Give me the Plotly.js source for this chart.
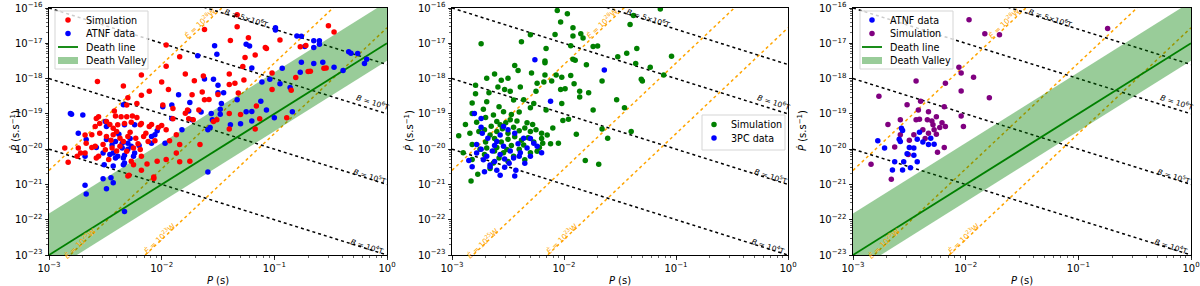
<!DOCTYPE html>
<html><head><meta charset="utf-8">
<script src="https://cdn.plot.ly/plotly-3.0.1.min.js"></script>
<style>html,body{margin:0;padding:0;background:#fff}#chart{width:1200px;height:286px}</style>
</head><body><div id="chart"></div>
<script>
// ---- Values (log10 of P in s, log10 of Pdot in s/s) ----
// Panel 1: Simulation (red)
const p1SimLogP = [-1.33,-1.62,-1.33,-0.52,-0.47,-1.96,-1.23,-1.39,-1.07,-1.84,-1.26,-1.17,-0.72,-1.28,-1.96,-2.18,-2.57,-2.34,-1.79,-1.71,-1.63,-2.0,-1.40,-1.32,-2.11,-1.94,-1.64,-1.62,-1.58,-1.73,-2.30,-2.22,-1.99,-1.90,-2.42,-1.77,-1.67,-1.90,-1.76,-1.72,-2.19,-2.03,-1.96,-2.11,-2.58,-2.49,-1.87,-1.02,-1.02,-0.85,-0.70,-0.56,-1.40,-1.30,-1.51,-1.16,-1.40,-1.17,-0.89,-2.18,-2.31,-2.56,-2.41,-2.36,-2.31,-2.26,-2.22,-2.59,-2.46,-2.39,-2.33,-2.27,-2.18,-2.09,-2.00,-2.62,-2.55,-2.49,-2.43,-2.37,-2.30,-2.23,-2.16,-2.12,-2.06,-2.67,-2.59,-2.52,-2.44,-2.37,-2.31,-2.25,-2.19,-2.74,-2.75,-2.68,-2.56,-2.47,-2.27,-2.18,-2.83,-2.72,-2.58,-2.25,-2.13,-2.04,-1.96,-2.18,-2.29,-2.07,-1.84,-1.75,-1.66,-1.87,-1.84,-0.95,-1.08,-0.77,-0.68,-0.54,-1.40,-1.35,-1.27,-0.81,-1.54,-1.13,-1.93,-2.43,-2.86,-2.55,-2.30,-2.07,-2.40,-2.34,-2.45,-2.28,-2.50,-2.62,-2.21,-2.40,-2.14,-1.79,-2.68,-1.50];
const p1SimLogPdot = [-16.19,-16.61,-16.53,-16.50,-16.68,-17.05,-16.84,-16.92,-17.15,-17.38,-17.40,-17.33,-17.06,-17.66,-17.65,-17.90,-18.08,-18.21,-17.87,-18.06,-17.93,-18.10,-18.17,-18.41,-18.36,-18.31,-18.38,-18.60,-18.59,-18.46,-18.54,-18.71,-18.75,-18.85,-18.92,-18.89,-18.89,-19.14,-19.14,-19.17,-19.31,-19.39,-19.45,-19.36,-19.13,-19.22,-19.59,-17.84,-18.31,-18.33,-17.80,-17.71,-18.99,-19.02,-19.17,-18.78,-19.43,-19.43,-19.11,-18.47,-18.75,-19.08,-19.06,-19.08,-19.08,-19.06,-19.10,-19.36,-19.30,-19.31,-19.27,-19.24,-19.27,-19.30,-19.33,-19.59,-19.55,-19.64,-19.59,-19.69,-19.64,-19.69,-19.64,-19.78,-19.76,-19.83,-19.92,-19.87,-19.97,-19.92,-20.06,-19.97,-20.01,-19.97,-20.20,-20.11,-20.20,-20.29,-20.34,-20.20,-20.37,-20.11,-20.25,-20.44,-20.42,-20.34,-20.29,-20.60,-20.74,-20.79,-20.36,-20.34,-19.87,-20.11,-19.87,-16.91,-17.12,-17.10,-17.79,-17.70,-17.87,-18.13,-18.04,-17.97,-19.22,-19.14,-19.76,-19.41,-19.97,-19.27,-20.76,-20.83,-19.50,-19.78,-19.75,-19.52,-20.02,-19.95,-19.85,-20.05,-19.55,-18.98,-19.60,-18.45];
// Panel 1: ATNF data (blue)
const p1AtnfLogP = [-1.53,-1.51,-1.68,-1.25,-1.22,-1.20,-1.62,-1.54,-1.50,-1.50,-1.45,-1.85,-1.75,-2.34,-2.81,-1.47,-1.48,-1.56,-1.48,-1.55,-1.39,-1.30,-1.25,-1.20,-1.12,-1.07,-1.00,-0.84,-1.57,-1.59,-1.82,-2.06,-2.09,-0.99,-0.99,-0.80,-0.76,-0.65,-0.60,-0.73,-0.65,-0.60,-0.34,-0.32,-0.26,-0.76,-0.65,-0.57,-0.47,-0.39,-0.20,-0.18,-0.93,-0.77,-1.11,-1.04,-2.80,-2.70,-2.74,-2.67,-2.50,-2.49,-2.33,-2.24,-2.49,-2.41,-2.35,-2.30,-2.27,-2.35,-2.43,-2.39,-2.33,-2.24,-2.09,-2.04,-1.91,-1.99,-1.91,-2.51,-2.33,-1.76,-1.73,-2.68,-2.52,-2.46,-2.41,-2.34,-2.25,-2.43,-2.34,-2.52,-2.45,-2.43,-2.68,-2.67,-2.49,-2.33,-1.59,-1.97,-2.38,-2.28,-2.20,-2.44,-2.58,-2.30,-1.20,-0.95,-0.86,-1.33,-1.65];
const p1AtnfLogPdot = [-17.07,-17.31,-17.35,-17.03,-17.08,-17.70,-18.01,-18.02,-18.19,-18.40,-18.40,-18.46,-18.68,-18.74,-18.99,-18.71,-18.87,-18.99,-19.01,-19.17,-19.31,-19.28,-18.94,-18.93,-18.64,-18.89,-19.11,-18.94,-19.39,-19.45,-19.45,-19.59,-19.83,-16.56,-16.62,-16.79,-16.80,-16.93,-16.93,-17.09,-17.12,-17.03,-17.24,-17.28,-17.29,-17.54,-17.57,-17.54,-17.68,-17.77,-17.57,-17.45,-17.71,-17.82,-18.10,-18.02,-19.01,-19.03,-19.55,-19.73,-19.22,-19.36,-19.31,-19.31,-19.73,-19.78,-19.83,-19.83,-19.92,-19.97,-20.11,-20.20,-20.17,-20.11,-19.64,-19.48,-18.75,-18.80,-19.13,-20.44,-20.39,-18.92,-19.17,-20.20,-20.11,-20.15,-20.25,-20.25,-20.20,-20.48,-20.44,-20.84,-20.81,-20.95,-21.02,-21.27,-21.12,-21.77,-20.65,-19.83,-19.58,-19.70,-19.90,-19.88,-19.95,-20.00,-19.20,-18.15,-18.25,-18.60,-18.95];
// Panel 2: Simulation (green)
const p2SimLogP = [-2.06,-1.97,-1.14,-1.38,-1.41,-2.03,-1.92,-1.92,-1.85,-1.83,-2.08,-2.30,-2.74,-2.38,-2.16,-1.94,-1.74,-1.70,-1.52,-1.44,-1.35,-1.36,-1.23,-1.04,-1.11,-1.30,-1.92,-1.90,-1.80,-2.17,-2.17,-2.44,-2.41,-2.29,-2.17,-2.07,-1.94,-2.02,-2.62,-2.56,-2.50,-2.69,-2.24,-2.18,-2.11,-2.03,-1.99,-1.86,-1.91,-1.78,-1.66,-1.31,-2.25,-2.79,-2.67,-2.59,-2.53,-2.48,-2.39,-2.79,-2.69,-2.45,-2.36,-2.30,-2.27,-2.16,-2.02,-1.86,-1.74,-1.53,-1.46,-1.66,-1.61,-1.40,-1.89,-2.01,-1.96,-2.82,-2.82,-2.72,-2.78,-2.70,-2.63,-2.54,-2.60,-2.48,-2.94,-2.84,-2.71,-2.57,-2.82,-2.69,-2.51,-2.24,-2.19,-2.05,-2.71,-2.63,-2.66,-2.82,-2.77,-2.83,-1.81,-1.69,-2.65,-2.60,-2.55,-2.50,-2.45,-2.40,-2.35,-2.30,-2.25,-2.20,-2.62,-2.56,-2.50,-2.44,-2.38,-2.32,-2.27,-2.60,-2.54,-2.47,-2.40,-2.36,-2.30,-2.20,-2.15,-2.70,-2.75,-2.58,-2.45,-2.66,-2.52,-2.42,-2.33,-2.28,-2.10,-2.47,-2.40,-2.58,-2.76,-2.88,-2.35,-2.50,-2.62,-2.90,-2.22,-2.12];
const p2SimLogPdot = [-16.07,-16.16,-16.03,-16.21,-16.47,-16.40,-16.56,-16.79,-16.73,-16.85,-16.75,-16.76,-17.01,-16.96,-17.15,-17.07,-17.09,-17.08,-17.38,-17.28,-17.15,-17.57,-17.68,-17.37,-17.90,-18.07,-17.45,-17.48,-17.61,-17.50,-17.55,-17.63,-17.77,-17.84,-17.90,-17.90,-17.91,-17.96,-17.87,-18.05,-17.99,-17.99,-18.13,-18.10,-18.07,-18.31,-18.29,-18.36,-18.15,-18.40,-18.07,-18.02,-18.36,-18.19,-18.40,-18.24,-18.31,-18.36,-18.24,-18.43,-18.66,-18.61,-18.60,-18.83,-18.71,-18.89,-18.71,-18.52,-18.89,-18.60,-18.83,-19.43,-19.69,-19.50,-19.58,-19.19,-19.15,-18.69,-18.99,-18.87,-19.24,-19.10,-19.03,-18.94,-19.22,-19.17,-19.62,-19.55,-19.45,-19.31,-19.87,-19.97,-20.01,-20.06,-19.83,-19.83,-20.15,-20.39,-20.55,-20.29,-20.71,-20.90,-20.32,-20.43,-19.35,-19.50,-19.42,-19.55,-19.38,-19.48,-19.40,-19.50,-19.45,-19.55,-19.70,-19.80,-19.72,-19.65,-19.75,-19.68,-19.80,-19.95,-20.10,-19.90,-20.00,-19.88,-20.10,-19.70,-19.60,-19.80,-20.00,-20.25,-20.20,-19.60,-19.25,-19.20,-19.25,-19.30,-19.40,-19.02,-18.95,-18.80,-19.50,-19.30,-20.30,-20.35,-20.05,-20.10,-19.95,-19.85];
// Panel 2: 3PC data (blue)
const p2PcLogP = [-2.26,-1.64,-2.12,-2.80,-2.74,-2.74,-2.54,-2.50,-2.68,-2.57,-2.44,-2.36,-2.30,-2.78,-2.60,-2.54,-2.41,-2.27,-2.85,-2.78,-2.74,-2.69,-2.64,-2.57,-2.53,-2.45,-2.40,-2.30,-2.33,-2.24,-2.71,-2.66,-2.57,-2.53,-2.44,-2.43,-2.62,-2.66,-2.49,-2.35,-2.82,-2.60,-2.72,-2.48,-2.39,-2.20,-2.73,-2.62];
const p2PcLogPdot = [-17.47,-17.76,-18.64,-18.99,-19.13,-19.38,-19.36,-19.45,-19.69,-19.60,-19.55,-19.69,-19.70,-19.87,-19.78,-19.92,-19.85,-19.83,-20.32,-20.11,-20.00,-20.20,-20.05,-20.15,-20.28,-20.25,-20.20,-20.20,-19.97,-19.92,-20.64,-20.50,-20.74,-20.51,-20.76,-20.60,-20.35,-20.45,-20.40,-20.40,-20.50,-20.60,-20.30,-20.05,-20.10,-20.10,-19.55,-19.90];
// Panel 3: ATNF data (blue)
const p3AtnfLogP = [-2.78,-2.72,-2.59,-2.57,-2.56,-2.50,-2.46,-2.41,-2.43,-2.33,-2.31,-2.28,-2.52,-2.46,-2.55,-2.43,-2.63,-2.65,-2.56,-2.49,-2.58,-2.38];
const p3AtnfLogPdot = [-19.76,-19.97,-19.72,-19.41,-19.47,-19.95,-19.97,-19.52,-19.72,-19.87,-19.69,-19.86,-20.13,-20.17,-20.36,-20.36,-20.36,-20.59,-20.59,-20.53,-19.78,-19.80];
// Panel 3: Simulation (purple)
const p3SimLogP = [-1.97,-1.83,-1.70,-0.74,-2.06,-2.04,-1.93,-2.18,-2.44,-2.04,-1.79,-2.77,-2.69,-2.52,-2.40,-2.19,-2.04,-2.02,-2.42,-2.44,-2.33,-2.34,-2.26,-2.29,-2.23,-2.18,-2.38,-2.46,-2.33,-2.26,-2.58,-2.58,-2.63,-2.19,-2.84,-2.66,-2.51,-2.25,-2.41,-2.30,-2.21,-2.36,-2.28,-2.50];
const p3SimLogPdot = [-16.33,-16.73,-16.76,-16.58,-17.68,-17.84,-17.96,-18.13,-18.07,-18.35,-18.54,-18.50,-19.30,-18.74,-18.64,-18.80,-19.06,-19.36,-18.89,-19.17,-18.94,-19.17,-19.08,-19.31,-19.39,-19.36,-19.45,-19.59,-19.55,-19.58,-19.17,-19.59,-19.94,-19.95,-20.43,-20.85,-20.15,-20.09,-19.15,-19.20,-19.25,-19.70,-19.45,-19.75];

// ---- Reference lines (end points) ----
const lineP = [1e-3, 1];
const bLineTexts = ['5×10<sup>6</sup>', '10<sup>6</sup>', '10<sup>5</sup>', '10<sup>4</sup>'];
const bLinePdot = [[2.5e-15, 2.5e-18], [1e-16, 1e-19], [1e-18, 1e-21], [1e-20, 1e-23]];
const eLineTexts = ['10<sup>28</sup>', '10<sup>25</sup>', '10<sup>23</sup>'];
const eLinePdot = [[2.5e-21, 2.5e-12], [2.75e-24, 2.75e-15], [2.75e-26, 2.75e-17]];
const deathLinePdot = [1e-23, 1e-17];
const valleyUpperPdot = [1.5e-22, 1.5e-16];
const valleyLowerPdot = [3.2e-24, 3.2e-18];

// ---- Tick labels and legend labels ----
const xTickVals = [1e-3, 1e-2, 1e-1, 1];
const xTickText = ['10<sup>−3</sup>', '10<sup>−2</sup>', '10<sup>−1</sup>', '10<sup>0</sup>'];
const yTickVals = [1e-23, 1e-22, 1e-21, 1e-20, 1e-19, 1e-18, 1e-17, 1e-16];
const yTickText = ['10<sup>−23</sup>', '10<sup>−22</sup>', '10<sup>−21</sup>', '10<sup>−20</sup>', '10<sup>−19</sup>', '10<sup>−18</sup>', '10<sup>−17</sup>', '10<sup>−16</sup>'];
const legend1Labels = ['Simulation', 'ATNF data', 'Death line', 'Death Valley'];
const legend2Labels = ['Simulation', '3PC data'];
const legend3Labels = ['ATNF data', 'Simulation', 'Death line', 'Death Valley'];

// ---- build ----
const pow10 = a => a.map(v => Math.pow(10, v));
const FONT = 'DejaVu Sans, Verdana, sans-serif';
const VALLEY = 'rgba(0,128,0,0.4)';
const traces = [];

function addRefLines(sfx) {
  eLinePdot.forEach(pd => traces.push({x: lineP, y: pd, xaxis: 'x' + sfx, yaxis: 'y' + sfx, mode: 'lines',
    line: {color: 'orange', width: 1.5, dash: 'dot'}, showlegend: false, hoverinfo: 'skip'}));
  bLinePdot.forEach(pd => traces.push({x: lineP, y: pd, xaxis: 'x' + sfx, yaxis: 'y' + sfx, mode: 'lines',
    line: {color: 'black', width: 1.5, dash: 'dot'}, showlegend: false, hoverinfo: 'skip'}));
}
function addValley(sfx) {
  traces.push({x: [lineP[0], lineP[1], lineP[1], lineP[0]],
    y: [valleyUpperPdot[0], valleyUpperPdot[1], valleyLowerPdot[1], valleyLowerPdot[0]],
    xaxis: 'x' + sfx, yaxis: 'y' + sfx, mode: 'lines', fill: 'toself', fillcolor: VALLEY,
    line: {width: 0, color: VALLEY}, showlegend: false, hoverinfo: 'skip'});
  traces.push({x: lineP, y: deathLinePdot, xaxis: 'x' + sfx, yaxis: 'y' + sfx, mode: 'lines',
    line: {color: 'green', width: 1.8}, showlegend: false, hoverinfo: 'skip'});
}
function addPoints(sfx, lp, lpd, color) {
  traces.push({x: pow10(lp), y: pow10(lpd), xaxis: 'x' + sfx, yaxis: 'y' + sfx, mode: 'markers',
    marker: {color: color, size: 5.5}, showlegend: false, hoverinfo: 'skip'});
}

addRefLines(''); addValley('');
addPoints('', p1AtnfLogP, p1AtnfLogPdot, 'blue');
addPoints('', p1SimLogP, p1SimLogPdot, 'red');
addRefLines('2');
addPoints('2', p2SimLogP, p2SimLogPdot, 'green');
addPoints('2', p2PcLogP, p2PcLogPdot, 'blue');
addRefLines('3'); addValley('3');
addPoints('3', p3SimLogP, p3SimLogPdot, 'purple');
addPoints('3', p3AtnfLogP, p3AtnfLogPdot, 'blue');

// ---- layout ----
const W = 1200, TOP = 8, BOT = 255, PH = BOT - TOP;
const panels = [[49, 387], [452, 788], [853, 1191]];
const px = v => v / W;
const py = v => (BOT - v) / PH;

const axBase = {type: 'log', tickmode: 'array', showline: true, mirror: true, linecolor: '#000', linewidth: 1,
  ticks: 'outside', ticklen: 3.5, tickwidth: 0.8, tickcolor: '#000', showgrid: false, zeroline: false,
  ticklabeloverflow: 'allow', automargin: false,
  minor: {ticks: 'outside', ticklen: 2, tickwidth: 0.6, tickcolor: '#000', dtick: 'D1', showgrid: false},
  tickfont: {family: FONT, size: 10, color: '#000'}};
function xAxis(i) {
  return Object.assign({}, axBase, {domain: [px(panels[i][0]), px(panels[i][1])], anchor: i ? 'y' + (i + 1) : 'y',
    range: [-3, 0], tickvals: xTickVals, ticktext: xTickText,
    title: {text: '<i>P</i> (s)', font: {family: FONT, size: 10, color: '#000'}, standoff: 4}});
}
function yAxis(i) {
  return Object.assign({}, axBase, {domain: [0, 1], anchor: i ? 'x' + (i + 1) : 'x',
    range: [-23, -16], tickvals: yTickVals, ticktext: yTickText});
}

const bLabelSpots = [[-1.243, -16.28], [-0.125, -18.66], [-0.152, -20.76], [-0.178, -22.75]];
const eLabelSpots = [[-1.66, -16.42], [-2.725, -22.67], [-2.015, -22.53]];
const annotations = [];
const shapes = [];
['', '2', '3'].forEach((sfx, i) => {
  bLineTexts.forEach((t, k) => annotations.push({xref: 'x' + sfx, yref: 'y' + sfx,
    x: bLabelSpots[k][0], y: bLabelSpots[k][1], text: '<i>B</i> = ' + t + 'T', showarrow: false,
    textangle: 17.6, font: {family: FONT, size: 7.5, color: '#000'}}));
  eLineTexts.forEach((t, k) => annotations.push({xref: 'x' + sfx, yref: 'y' + sfx,
    x: eLabelSpots[k][0], y: eLabelSpots[k][1], text: '<i>Ė</i> = ' + t + 'W', showarrow: false,
    textangle: -43.5, font: {family: FONT, size: 7.5, color: 'orange'}}));
  annotations.push({xref: 'paper', yref: 'paper', x: px([7, 409, 810][i]), y: py(131),
    text: '<i>Ṗ</i> (s.s<sup>−1</sup>)', showarrow: false, textangle: -90,
    font: {family: FONT, size: 10, color: '#000'}});
});

// ---- legends (drawn as shapes + text for matplotlib-like compact spacing) ----
function drawLegend(box, labels, kinds, symX, textX, rowYs) {
  shapes.push({type: 'rect', xref: 'paper', yref: 'paper', x0: px(box[0]), x1: px(box[1]), y0: py(box[3]), y1: py(box[2]),
    fillcolor: 'rgba(255,255,255,0.8)', line: {color: '#d5d5d5', width: 1}});
  labels.forEach((lab, k) => {
    const y = rowYs[k], kind = kinds[k];
    if (kind.type === 'marker') {
      shapes.push({type: 'circle', xref: 'paper', yref: 'paper', x0: px(symX - 2.75), x1: px(symX + 2.75),
        y0: py(y + 2.75), y1: py(y - 2.75), fillcolor: kind.color, line: {width: 0}});
    } else if (kind.type === 'line') {
      shapes.push({type: 'line', xref: 'paper', yref: 'paper', x0: px(symX - 10), x1: px(symX + 10),
        y0: py(y), y1: py(y), line: {color: kind.color, width: 1.8}});
    } else {
      shapes.push({type: 'rect', xref: 'paper', yref: 'paper', x0: px(symX - 10), x1: px(symX + 10),
        y0: py(y + 3.5), y1: py(y - 3.5), fillcolor: kind.color, line: {width: 0}});
    }
    annotations.push({xref: 'paper', yref: 'paper', x: px(textX), y: py(y), xanchor: 'left', yanchor: 'middle',
      text: lab, showarrow: false, font: {family: FONT, size: 9.6, color: '#000'}});
  });
}
const valleyKinds = [{type: 'line', color: 'green'}, {type: 'fill', color: VALLEY}];
drawLegend([55, 148, 11, 69], legend1Labels, [{type: 'marker', color: 'red'}, {type: 'marker', color: 'blue'}].concat(valleyKinds),
  68, 84, [20, 33.5, 47, 60.5]);
drawLegend([702, 785, 115, 150], legend2Labels, [{type: 'marker', color: 'green'}, {type: 'marker', color: 'blue'}],
  714, 729, [124.5, 138]);
drawLegend([860, 953, 11, 69], legend3Labels, [{type: 'marker', color: 'blue'}, {type: 'marker', color: 'purple'}].concat(valleyKinds),
  872, 888, [20, 33.5, 47, 60.5]);

const layout = {
  width: 1200, height: 286, margin: {l: 0, r: 0, t: TOP, b: 286 - BOT},
  paper_bgcolor: '#fff', plot_bgcolor: '#fff', showlegend: false,
  xaxis: xAxis(0), xaxis2: xAxis(1), xaxis3: xAxis(2),
  yaxis: yAxis(0), yaxis2: yAxis(1), yaxis3: yAxis(2),
  annotations: annotations, shapes: shapes
};

Plotly.newPlot('chart', traces, layout, {displayModeBar: false, staticPlot: true});
</script>
</body></html>
